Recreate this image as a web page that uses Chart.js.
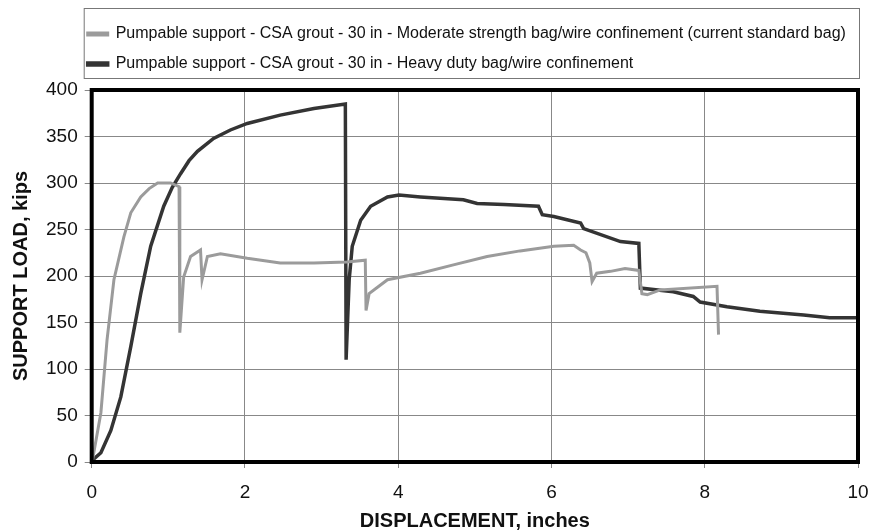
<!DOCTYPE html>
<html>
<head>
<meta charset="utf-8">
<script src="https://cdn.jsdelivr.net/npm/chart.js@4.4.1/dist/chart.umd.min.js"></script>
<style>
  html, body { margin: 0; padding: 0; background: #fff; }
  #wrap { width: 872px; height: 531px; }
</style>
</head>
<body>
<div id="wrap"><canvas id="myChart" width="872" height="531"></canvas></div>
<script>
// displacement (inches) / load (kips)
const moderateX = [0.01, 0.12, 0.2, 0.29, 0.42, 0.51, 0.64, 0.75, 0.86, 1.03, 1.14, 1.15, 1.2, 1.29, 1.42, 1.44, 1.51, 1.68, 2.03, 2.46, 2.9, 3.33, 3.57, 3.58, 3.62, 3.86, 4.29, 4.72, 5.16, 5.59, 6.03, 6.29, 6.38, 6.45, 6.5, 6.53, 6.59, 6.77, 6.96, 7.14, 7.18, 7.25, 7.42, 8.16, 8.18];
const moderateY = [2, 53, 131, 196, 242, 268, 285, 294, 300, 300, 296, 139, 199, 221, 228, 196, 221, 224, 219, 214, 214, 215, 217, 163, 181, 196, 203, 212, 221, 227, 232, 233, 228, 225, 214, 194, 203, 205, 208, 206, 181, 180, 185, 189, 137];

const heavyX = [0.01, 0.12, 0.25, 0.38, 0.51, 0.64, 0.77, 0.94, 1.05, 1.16, 1.27, 1.38, 1.59, 1.81, 2.03, 2.46, 2.9, 3.31, 3.32, 3.33, 3.36, 3.4, 3.51, 3.64, 3.86, 4.01, 4.29, 4.85, 5.03, 5.38, 5.83, 5.88, 6.03, 6.38, 6.42, 6.9, 7.14, 7.16, 7.59, 7.85, 7.94, 8.29, 8.72, 9.29, 9.63, 9.98];
const heavyY = [2, 10, 34, 70, 124, 181, 232, 275, 295, 310, 324, 334, 348, 357, 364, 373, 380, 385, 110, 110, 196, 232, 260, 275, 285, 287, 285, 282, 278, 277, 275, 266, 264, 257, 251, 237, 235, 187, 183, 178, 172, 167, 162, 158, 155, 155];

const seriesNames = [
  'Pumpable support - CSA grout - 30 in - Moderate strength bag/wire confinement (current standard bag)',
  'Pumpable support - CSA grout - 30 in - Heavy duty bag/wire confinement'
];

const toPoints = (xs, ys) => xs.map((x, i) => ({x: x, y: ys[i]}));

const LEG_PAD = 14;

// thick frame around the plot + box around the legend
const frame = {
  id: 'frame',
  beforeLayout(chart) {
    // a bit more room under the legend
    const lg = chart.legend;
    if (lg && !lg._extra) {
      const fit = lg.fit;
      lg.fit = function () { fit.call(this); this.height += 8; };
      lg._extra = true;
    }
  },
  afterLayout(chart) {
    // legend items start just left of the plot, like the original
    chart.legend.left = chart.chartArea.left - 4 - LEG_PAD;
  },
  afterDatasetsDraw(chart) {
    const {ctx, chartArea: a} = chart;
    ctx.save();
    ctx.strokeStyle = '#000';
    ctx.lineWidth = 4;
    ctx.strokeRect(a.left, a.top, a.right - a.left, a.bottom - a.top);
    ctx.restore();
  },
  afterDraw(chart) {
    const {ctx, chartArea: a} = chart;
    ctx.save();
    ctx.strokeStyle = '#777';
    ctx.lineWidth = 1;
    ctx.strokeRect(a.left - 7.5, 8.5, a.right - a.left + 9, 70);
    ctx.restore();
  }
};

const data = {
  datasets: [{
    label: seriesNames[0],
    data: toPoints(moderateX, moderateY),
    borderColor: 'rgb(155,155,155)',
    backgroundColor: 'rgb(155,155,155)',
    borderWidth: 3
  }, {
    label: seriesNames[1],
    data: toPoints(heavyX, heavyY),
    borderColor: 'rgb(52,52,52)',
    backgroundColor: 'rgb(52,52,52)',
    borderWidth: 3.5
  }]
};

const config = {
  type: 'line',
  data: data,
  options: {
    responsive: false,
    animation: false,
    layout: { padding: { left: 9, right: 14, top: 12, bottom: 0 } },
    elements: { point: { radius: 0 }, line: { tension: 0 } },
    plugins: {
      tooltip: { enabled: false },
      legend: {
        position: 'top',
        align: 'start',
        labels: {
          color: '#111',
          font: { family: 'Liberation Sans', size: 16 },
          boxWidth: 20,
          boxHeight: 2,
          padding: LEG_PAD
        }
      }
    },
    scales: {
      x: {
        type: 'linear',
        min: 0, max: 10,
        afterFit(s) { s.height = 69; s.paddingRight = 0; },
        ticks: { stepSize: 2, color: '#111', font: { family: 'Liberation Sans', size: 19, lineHeight: 1 }, padding: 15 },
        grid: { color: '#888', lineWidth: 1, tickLength: 6, tickColor: '#888' },
        border: { display: false },
        title: { display: true, text: 'DISPLACEMENT, inches', color: '#111', font: { family: 'Liberation Sans', size: 20, weight: 'bold', lineHeight: 1 }, padding: { top: 0, bottom: 0 } }
      },
      y: {
        min: 0, max: 400,
        ticks: { stepSize: 50, color: '#111', font: { family: 'Liberation Sans', size: 19 }, padding: 7 },
        grid: { color: '#888', lineWidth: 1, tickLength: 7, tickColor: '#888' },
        border: { display: false },
        title: { display: true, text: 'SUPPORT LOAD, kips', color: '#111', font: { family: 'Liberation Sans', size: 20, weight: 'bold' }, padding: { top: 0, bottom: 6 } }
      }
    }
  },
  plugins: [frame]
};

const myChart = new Chart(document.getElementById('myChart'), config);
</script>
</body>
</html>
